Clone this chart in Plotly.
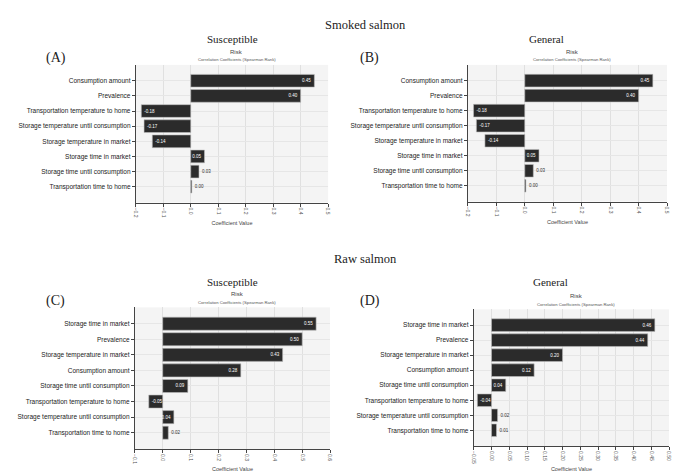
import plotly.graph_objects as go

# ---------------- data ----------------
cats_smoked = ["Consumption amount", "Prevalence", "Transportation temperature to home",
               "Storage temperature until consumption", "Storage temperature in market",
               "Storage time in market", "Storage time until consumption", "Transportation time to home"]
vals_A = [0.45, 0.40, -0.18, -0.17, -0.14, 0.05, 0.03, 0.004]
vals_B = [0.45, 0.40, -0.18, -0.17, -0.14, 0.05, 0.03, 0.004]

cats_raw = ["Storage time in market", "Prevalence", "Storage temperature in market",
            "Consumption amount", "Storage time until consumption", "Transportation temperature to home",
            "Storage temperature until consumption", "Transportation time to home"]
vals_C = [0.55, 0.50, 0.43, 0.28, 0.09, -0.05, 0.04, 0.02]
vals_D = [0.46, 0.44, 0.20, 0.12, 0.04, -0.04, 0.017, 0.014]

range_AB = [-0.2, 0.5]
range_C = [-0.1, 0.6]
range_D = [-0.05, 0.50]

# ---------------- layout helpers ----------------
W, H = 678, 472
def fx(px): return px / W
def fy(py): return 1 - py / H

panels = [
    ("A", cats_smoked, vals_A, range_AB, 0.1, ".1f", 134, 328, 65, 203),
    ("B", cats_smoked, vals_B, range_AB, 0.1, ".1f", 469, 670, 65, 202),
    ("C", cats_raw, vals_C, range_C, 0.1, ".1f", 133, 330, 308, 450),
    ("D", cats_raw, vals_D, range_D, 0.05, ".2f", 475, 672, 310, 447),
]

fig = go.Figure()
layout = dict(width=W, height=H, margin=dict(l=0, r=0, t=0, b=0),
              paper_bgcolor="white", plot_bgcolor="#f4f4f4", showlegend=False,
              bargap=0.16)

ann = []
for i, (name, cats, vals, xr, dt, fmt, x0, x1, y0, y1) in enumerate(panels):
    k = "" if i == 0 else str(i + 1)
    span = xr[1] - xr[0]
    pos = ["inside" if abs(v) / span > 0.05 else "outside" for v in vals]
    tcol = ["white" if p == "inside" else "#333333" for p in pos]
    fig.add_trace(go.Bar(
        x=vals, y=cats, orientation="h", xaxis="x" + k, yaxis="y" + k,
        marker=dict(color="#2b2b2b", line=dict(color="#bdbdbd", width=0.6)),
        text=[f"{v:.2f}" for v in vals], textposition=pos, textangle=0,
        insidetextanchor="end", constraintext="none",
        textfont=dict(size=4.5, color=tcol, family="Liberation Sans"),
        cliponaxis=False,
    ))
    layout["xaxis" + k] = dict(
        domain=[fx(x0), fx(x1)], anchor="y" + k, range=xr, dtick=dt, tick0=xr[0],
        tickformat=fmt, tickangle=90, tickfont=dict(size=5, color="#555", family="Liberation Sans"),
        showline=True, linecolor="#444", linewidth=1, ticks="outside", ticklen=3, tickcolor="#444",
        showgrid=True, gridcolor="#e0e0e0", gridwidth=1, zeroline=False,
        title=dict(text="Coefficient Value", font=dict(size=5.5, color="#444", family="Liberation Sans"), standoff=4),
        fixedrange=True,
    )
    layout["yaxis" + k] = dict(
        domain=[fy(y1), fy(y0)], anchor="x" + k, type="category",
        categoryorder="array", categoryarray=cats, range=[len(cats) - 1 + 1.05, -1.05],
        tickfont=dict(size=6.5, color="#222", family="Liberation Sans"),
        showline=True, linecolor="#444", linewidth=1, ticks="outside", ticklen=3, tickcolor="#444",
        showgrid=True, gridcolor="#e6e6e6", zeroline=False,
    )
    cx = fx((x0 + x1) / 2 + 5)
    ann.append(dict(text="Risk", x=cx, y=fy(y0 - 13), xref="paper", yref="paper",
                    showarrow=False, font=dict(size=6, color="#444", family="Liberation Sans"),
                    xanchor="center", yanchor="middle"))
    ann.append(dict(text="Correlation Coefficients (Spearman Rank)", x=cx, y=fy(y0 - 5),
                    xref="paper", yref="paper", showarrow=False,
                    font=dict(size=4.2, color="#555", family="Liberation Sans"),
                    xanchor="center", yanchor="middle"))

serif = "Liberation Serif"
texts = [
    ("Smoked salmon", 366, 25, 12.5),
    ("Raw salmon", 366, 260, 12.5),
    ("Susceptible", 232, 39, 11),
    ("General", 548, 39, 11),
    ("Susceptible", 232, 283, 11),
    ("General", 552, 283, 11),
    ("(A)", 53, 58, 14),
    ("(B)", 370, 58, 14),
    ("(C)", 53, 302, 14),
    ("(D)", 370, 302, 14),
]
for t, x, y, s in texts:
    ann.append(dict(text=t, x=fx(x), y=fy(y), xref="paper", yref="paper", showarrow=False,
                    font=dict(size=s, color="#222", family=serif),
                    xanchor="center", yanchor="middle"))

layout["annotations"] = ann
fig.update_layout(**layout)
fig.write_html("out.html")
